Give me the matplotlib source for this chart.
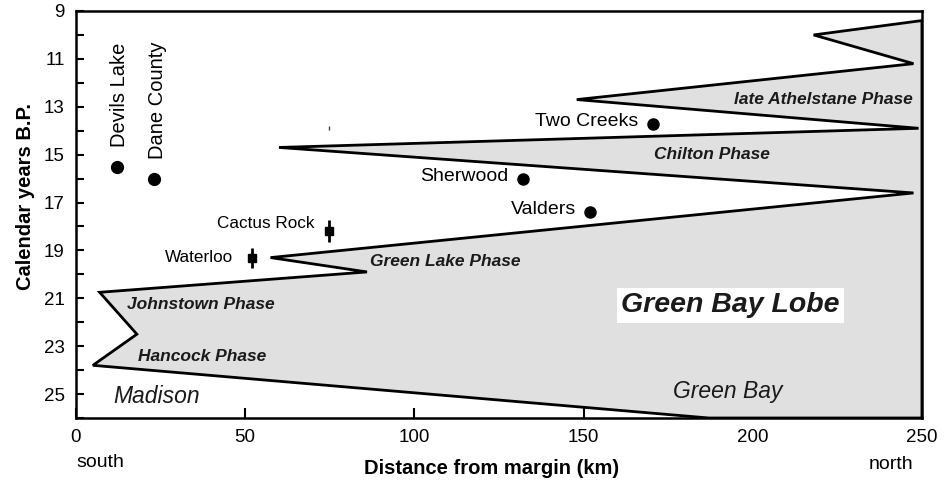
import matplotlib.pyplot as plt

plt.rcParams['font.family'] = ['Liberation Sans', 'DejaVu Sans']

# ice margin outline (distance km, years B.P.)
margin_km = [250, 218, 247.5, 148, 249, 60, 247.5, 57.5, 86, 7, 18, 5, 187, 250]
margin_yr = [9.4, 10.0, 11.2, 12.7, 13.9, 14.7, 16.6, 19.3, 19.9, 20.75, 22.5, 23.8, 26.0, 26.0]

# dated sites shown as dots
dot_names = ["Two Creeks", "Sherwood", "Valders"]
dot_km = [170.5, 132, 152]
dot_yr = [13.7, 16.0, 17.4]

rot_names = ["Devils Lake", "Dane County"]
rot_km = [12, 23]
rot_yr = [15.5, 16.0]

# sites with error bars
bar_names = ["Cactus Rock", "Waterloo"]
bar_km = [74.9, 52.1]
bar_yr = [18.2, 19.3]
bar_err = [0.46, 0.42]

phase_names = ["late Athelstane Phase", "Chilton Phase", "Green Lake Phase",
               "Johnstown Phase", "Hancock Phase"]
phase_km = [221, 188, 109, 37, 37.3]
phase_yr = [12.7, 15.0, 19.45, 21.25, 23.45]

fig = plt.figure(figsize=(9.53, 4.82), dpi=100)
ax = fig.add_axes([0.0797, 0.1328, 0.8877, 0.8444])
ax.set_axisbelow(True)

ax.fill(margin_km, margin_yr, facecolor='#e0e0e0', edgecolor='black', linewidth=2.0, zorder=2)

ax.plot(dot_km, dot_yr, 'o', color='black', markersize=8, zorder=4)
for name, x, y in zip(dot_names, dot_km, dot_yr):
    ax.text(x - 4.3, y - 0.1, name, ha='right', va='center', fontsize=14)

ax.plot(rot_km, rot_yr, 'o', color='black', markersize=8.5, zorder=4)
for name, x, y in zip(rot_names, rot_km, rot_yr):
    ax.text(x + 1.0, y - 0.8, name, ha='center', va='bottom', rotation=90, fontsize=14.5)

ax.errorbar(bar_km, bar_yr, yerr=bar_err, fmt='s', color='black', markersize=5.5,
            elinewidth=2, capsize=0, zorder=4)
ax.text(bar_km[0] - 4.5, bar_yr[0] - 0.33, bar_names[0], ha='right', va='center', fontsize=12.3)
ax.text(bar_km[1] - 5.6, bar_yr[1], bar_names[1], ha='right', va='center', fontsize=12.3)

# stray mark near 75 km
ax.plot([74.9], [13.9], marker='|', color='#444444', markersize=3, zorder=4)

for name, x, y in zip(phase_names, phase_km, phase_yr):
    ax.text(x, y, name, ha='center', va='center', fontsize=12.5,
            fontweight='bold', fontstyle='italic', color='#1a1a1a', zorder=5)

ax.text(193.5, 21.3, "Green Bay Lobe", ha='center', va='center', fontsize=20.5,
        fontweight='bold', fontstyle='italic', color='#1a1a1a', zorder=5,
        bbox=dict(boxstyle='square,pad=0.15', facecolor='white', edgecolor='none'))
ax.text(23.7, 25.1, "Madison", ha='center', va='center', fontsize=16.5,
        fontstyle='italic', color='#1a1a1a', zorder=5)
ax.text(192.6, 24.9, "Green Bay", ha='center', va='center', fontsize=16.5,
        fontstyle='italic', color='#1a1a1a', zorder=5)

ax.set_xlim(0, 250)
ax.set_ylim(26, 9)
ax.set_xticks([0, 50, 100, 150, 200, 250])
ax.set_yticks([9, 11, 13, 15, 17, 19, 21, 23, 25])
ax.set_yticks(range(10, 27, 2), minor=True)
ax.tick_params(axis='both', which='both', direction='in', width=1.5, labelsize=13.5, pad=8)
ax.tick_params(axis='y', which='both', length=6)
ax.tick_params(axis='x', which='major', length=7)
for sp in ax.spines.values():
    sp.set_linewidth(1.8)
    sp.set_zorder(6)

ax.set_xlabel("Distance from margin (km)", fontsize=14.5, fontweight='bold')
ax.xaxis.set_label_coords(0.491, -0.1)
ax.set_ylabel("Calendar years B.P.", fontsize=14.5, fontweight='bold')
ax.yaxis.set_label_coords(-0.049, 0.543)

ax.text(0, -0.11, "south", transform=ax.get_xaxis_transform(), ha='left', va='center', fontsize=14)
ax.text(247.5, -0.115, "north", transform=ax.get_xaxis_transform(), ha='right', va='center', fontsize=14)

fig.savefig("out.png", dpi=100)
